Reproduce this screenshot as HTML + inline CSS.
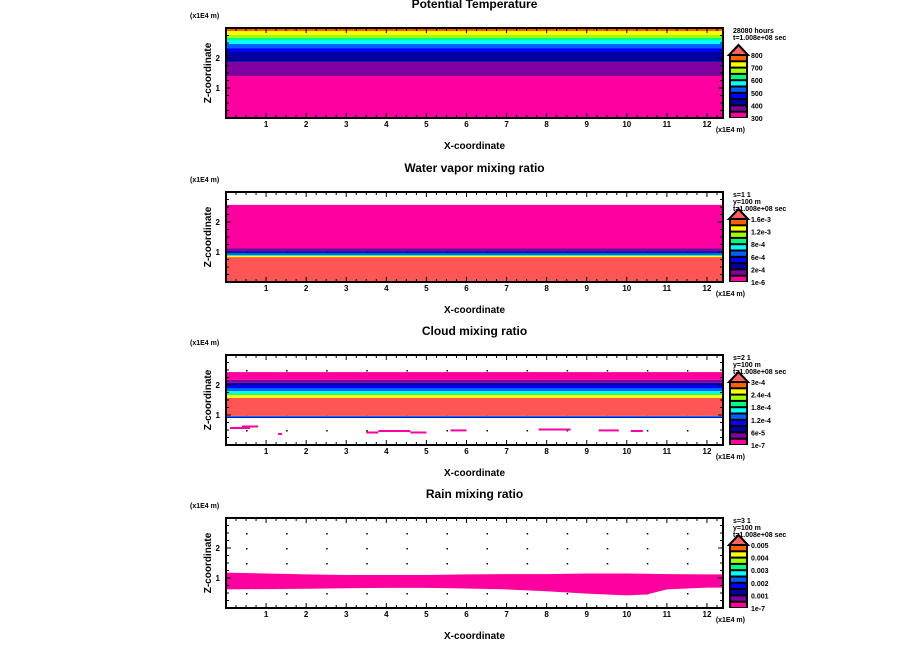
<!DOCTYPE html>
<html><head><meta charset="utf-8"><style>
html,body{margin:0;padding:0;background:#fff;}
svg{display:block;font-family:"Liberation Sans",sans-serif;font-weight:bold;}
</style></head><body>
<svg id="fig" width="904" height="654" viewBox="0 0 904 654"></svg>
<script>
const palette=["#ff00a0","#8000a0","#0000a0","#0000ff","#0060ff","#00ffff","#00ff80","#a0ff00","#ffff00","#ff6000"];
const salmon="#ff5555";
const titles=["Potential Temperature","Water vapor mixing ratio","Cloud mixing ratio","Rain mixing ratio"];
const panelTops=[28,192,355,518];
const xTicks=[1,2,3,4,5,6,7,8,9,10,11,12];
const zTicks=[1,2];
const bands1=[[0,1.4,0],[1.4,1.87,1],[1.87,2.2,2],[2.2,2.33,3],[2.33,2.47,4],[2.47,2.6,5],[2.6,2.67,6],[2.67,2.77,7],[2.77,2.9,8],[2.9,3.0,9]];
const bands2=[[0,0.83,-1],[0.83,0.87,8],[0.87,0.9,6],[0.9,0.97,4],[0.97,1.03,2],[1.03,1.13,1],[1.13,2.57,0]];
const bands3=[[0.9,0.95,3],[0.95,0.97,6],[0.97,1.57,-1],[1.57,1.67,8],[1.67,1.73,6],[1.73,1.8,5],[1.8,1.9,4],[1.9,2.0,3],[2.0,2.07,2],[2.07,2.17,1],[2.17,2.43,0]];
const rainX=[0,1,2,3,4,5,6,7,8,9,10,10.5,11,12,12.4];
const rainTop=[1.18,1.15,1.12,1.1,1.1,1.1,1.12,1.13,1.13,1.15,1.15,1.14,1.13,1.12,1.12];
const rainBottom=[0.62,0.63,0.64,0.66,0.67,0.67,0.65,0.62,0.56,0.48,0.42,0.45,0.62,0.68,0.68];
const cloudScrapX=[[0.1,0.6],[0.4,0.8],[1.3,1.4],[3.5,3.8],[3.8,4.6],[4.6,5.0],[5.6,6.0],[7.8,8.6],[9.3,9.8],[10.1,10.4]];
const cloudScrapZ=[0.6,0.65,0.4,0.45,0.5,0.45,0.52,0.55,0.52,0.5];
const legendHdr=[["28080 hours","t=1.008e+08 sec"],["s=1 1","y=100 m","t=1.008e+08 sec"],["s=2 1","y=100 m","t=1.008e+08 sec"],["s=3 1","y=100 m","t=1.008e+08 sec"]];
const legendLabels=[["800","700","600","500","400","300"],["1.6e-3","1.2e-3","8e-4","6e-4","2e-4","1e-6"],["3e-4","2.4e-4","1.8e-4","1.2e-4","6e-5","1e-7"],["0.005","0.004","0.003","0.002","0.001","1e-7"]];

const NS="http://www.w3.org/2000/svg";
const svg=document.getElementById('fig');
const X0=226,X1=723,XMAX=12.4,H=90,ZMAX=3;
function el(t,a,p){const e=document.createElementNS(NS,t);for(const k in a)e.setAttribute(k,a[k]);(p||svg).appendChild(e);return e;}
function sx(v){return X0+v/XMAX*(X1-X0);}
function txt(x,y,s,size,anchor,p,rot){const t=el('text',{x:x,y:y,'font-size':size,'text-anchor':anchor||'start'},p);if(rot)t.setAttribute('transform',rot);t.textContent=s;return t;}

panelTops.forEach((top,pi)=>{
  const g=el('g',{});
  
  
  const sz=v=>top+H-v/ZMAX*H;
  const tt=txt((X0+X1)/2,top-20,titles[pi],12,'middle',g);
  
  
  txt(190,top-10,'(x1E4 m)',7,'start',g);
  if(pi>0){for(let xv=0.5;xv<XMAX;xv+=1)for(let zv=0.5;zv<3;zv+=0.5){el('rect',{x:sx(xv),y:sz(zv),width:1.5,height:1.5,fill:'#000'},g);}}
  const bands=[bands1,bands2,bands3,null][pi];
  if(bands){bands.forEach(b=>{const r=el('rect',{x:X0,y:sz(b[1]),width:X1-X0,height:sz(b[0])-sz(b[1]),fill:b[2]<0?salmon:palette[b[2]]},g);
    
    });}
  if(pi===2){cloudScrapX.forEach((c,i)=>{const r=el('rect',{x:sx(c[0]),y:sz(cloudScrapZ[i]),width:sx(c[1])-sx(c[0]),height:2,fill:'#ff00a0'},g);
    
    });}
  if(pi===3){let d='';rainX.forEach((v,i)=>{d+=(i?'L':'M')+sx(v)+','+sz(rainTop[i]);});
    for(let i=rainX.length-1;i>=0;i--)d+='L'+sx(rainX[i])+','+sz(rainBottom[i]);
    const p=el('path',{d:d+'Z',fill:'#ff00a0'},g);
    
    }
  el('rect',{x:X0,y:top,width:X1-X0,height:H,fill:'none',stroke:'#000','stroke-width':2},g);
  for(let v=0.25;v<XMAX;v+=0.25){const maj=Math.abs(v-Math.round(v))<1e-6;const L=maj?5:3;
    el('line',{x1:sx(v),x2:sx(v),y1:top+H,y2:top+H-L,stroke:'#000'},g);el('line',{x1:sx(v),x2:sx(v),y1:top,y2:top+L,stroke:'#000'},g);}
  for(let v=0.25;v<ZMAX;v+=0.25){const maj=Math.abs(v-Math.round(v))<1e-6;const L=maj?5:3;
    el('line',{x1:X0,x2:X0+L,y1:sz(v),y2:sz(v),stroke:'#000'},g);el('line',{x1:X1,x2:X1-L,y1:sz(v),y2:sz(v),stroke:'#000'},g);}
  xTicks.forEach(v=>txt(sx(v),top+H+9,String(v),8,'middle',g));
  zTicks.forEach(v=>txt(X0-6,sz(v)+3,String(v),8,'end',g));
  txt(X1+22,top+H+14,'(x1E4 m)',7,'end',g);
  const xl=txt((X0+X1)/2,top+H+31,'X-coordinate',10,'middle',g);
  
  
  const yl=txt(0,0,'Z-coordinate',10,'middle',g,'translate('+(X0-15)+','+(top+H/2)+') rotate(-90)');
  
  
  const lg=el('g',{},g);
  
  
  legendHdr[pi].forEach((s,i)=>txt(733,top+5+i*7,s,7,'start',lg));
  const cbTop=top+27,cbBot=top+H,step=(cbBot-cbTop)/10;
  el('polygon',{points:(729)+','+cbTop+' 748,'+cbTop+' 738.5,'+(cbTop-10),fill:'#ff6060',stroke:'#000','stroke-width':2},lg);
  el('rect',{x:729,y:cbTop,width:19,height:cbBot-cbTop,fill:'#000'},lg);
  palette.forEach((c,i)=>el('rect',{x:731,y:cbBot-(i+1)*step+1,width:15,height:step-2,fill:c},lg));
  legendLabels[pi].forEach((s,i)=>txt(751,cbTop+i*2*step+3,s,7,'start',lg));
});
</script>
</body></html>
